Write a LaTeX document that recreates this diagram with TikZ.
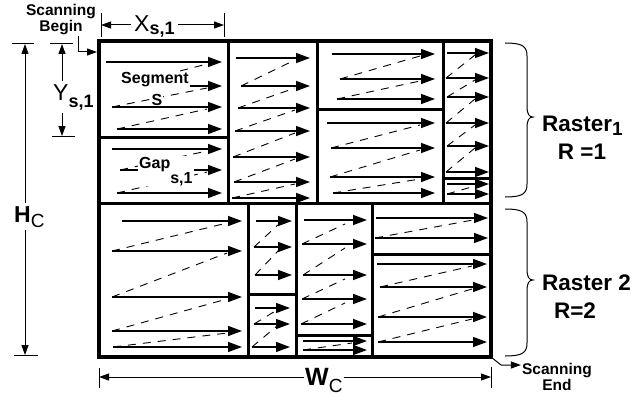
\documentclass[tikz,border=0pt]{standalone}
\usepackage{fontspec}
\setmainfont{Liberation Sans}
\usetikzlibrary{arrows.meta}

\begin{document}
\begin{tikzpicture}[x=1pt, y=-1pt,
    frame/.style={line width=3.5pt},
    divider/.style={line width=3pt},
    scan/.style={line width=1.4pt, -{Triangle[length=14pt,width=10pt]}},
    flyback/.style={line width=0.9pt, dash pattern=on 8pt off 7pt},
    dim/.style={line width=1pt},
    dimarrow/.style={dim, -{Triangle[length=10pt,width=7pt]}},
    brace/.style={line width=1pt},
    lbl/.style={font=\bfseries\fontsize{16}{21}\selectfont, fill=white, inner sep=1pt},
    note/.style={font=\bfseries\fontsize{15.5}{16}\selectfont, align=center, inner sep=1pt},
    big/.style={font=\fontsize{23}{26}\selectfont, inner sep=3pt},
    raster/.style={font=\bfseries\fontsize{22.5}{25}\selectfont, inner sep=1pt}]
  \useasboundingbox (0,0) rectangle (631,396);

  % --- Raster 1, column 1 (segment S and gap) ---
  \draw[flyback] (122,86) -- (207,64) (112,107) -- (207,88) (117,129) -- (207,109);
  \draw[scan] (106,62) -- (222,62);
  \draw[scan] (122,86) -- (222,86);
  \draw[scan] (112,107) -- (222,107);
  \draw[scan] (117,129) -- (222,129);
  \draw[flyback] (120,170) -- (207,151) (117,193) -- (207,172);
  \draw[scan] (112,149) -- (222,149);
  \draw[scan] (120,170) -- (222,170);
  \draw[scan] (117,193) -- (222,193);

  % --- Raster 1, column 2 ---
  \draw[flyback] (241,86) -- (295,60) (238,108) -- (295,88) (235,131) -- (295,110)
    (233,157) -- (295,133) (234,182) -- (295,159) (232,198) -- (295,184);
  \draw[scan] (236,58) -- (310,58);
  \draw[scan] (241,86) -- (310,86);
  \draw[scan] (238,108) -- (310,108);
  \draw[scan] (235,131) -- (310,131);
  \draw[scan] (233,157) -- (310,157);
  \draw[scan] (234,182) -- (310,182);
  \draw[scan] (232,198) -- (310,198);

  % --- Raster 1, column 3 ---
  \draw[flyback] (340,79) -- (420,56) (337,99) -- (420,81);
  \draw[scan] (332,54) -- (435,54);
  \draw[scan] (340,79) -- (435,79);
  \draw[scan] (337,99) -- (435,99);
  \draw[flyback] (331,148) -- (420,125) (330,177) -- (420,150) (333,193) -- (420,179);
  \draw[scan] (327,123) -- (435,123);
  \draw[scan] (331,148) -- (435,148);
  \draw[scan] (330,177) -- (435,177);
  \draw[scan] (333,193) -- (435,193);

  % --- Raster 1, column 4 ---
  \draw[flyback] (446,78) -- (475,55) (447,97) -- (475,80) (446,123) -- (475,99)
    (447,146) -- (475,125) (446,172) -- (475,148) (447,194) -- (475,186);
  \draw[scan] (447,53) -- (489,53);
  \draw[scan] (446,78) -- (489,78);
  \draw[scan] (447,97) -- (489,97);
  \draw[scan] (446,123) -- (489,123);
  \draw[scan] (447,146) -- (489,146);
  \draw[scan] (446,172) -- (489,172);
  \draw[scan] (447,184) -- (489,184);
  \draw[scan] (447,194) -- (489,194);

  % --- Raster 2, column 1 ---
  \draw[flyback] (112,251) -- (227,223) (112,297) -- (227,253) (112,331) -- (227,299)
    (113,347) -- (227,333);
  \draw[scan] (122,221) -- (242,221);
  \draw[scan] (112,251) -- (242,251);
  \draw[scan] (112,297) -- (242,297);
  \draw[scan] (112,331) -- (242,331);
  \draw[scan] (113,347) -- (242,347);

  % --- Raster 2, column 2 ---
  \draw[flyback] (254,247) -- (279,224) (255,275) -- (279,250);
  \draw[scan] (256,221) -- (292,221);
  \draw[scan] (254,247) -- (292,247);
  \draw[scan] (255,275) -- (292,275);
  \draw[flyback] (254,324) -- (277,310) (252,347) -- (277,326);
  \draw[scan] (255,308) -- (290,308);
  \draw[scan] (254,324) -- (290,324);
  \draw[scan] (252,347) -- (290,347);

  % --- Raster 2, column 3 ---
  \draw[flyback] (302,244) -- (345,224) (303,275) -- (345,248) (302,299) -- (345,279)
    (301,324) -- (345,303);
  \draw[scan] (304,220) -- (367,220);
  \draw[scan] (302,244) -- (367,244);
  \draw[scan] (303,275) -- (367,275);
  \draw[scan] (302,299) -- (367,299);
  \draw[scan] (301,324) -- (367,324);
  \draw[flyback] (303,350) -- (352,343);
  \draw[scan] (303,341) -- (367,341);
  \draw[scan] (303,350) -- (367,350);

  % --- Raster 2, column 4 ---
  \draw[flyback] (375,238) -- (473,220);
  \draw[scan] (376,218) -- (488,218);
  \draw[scan] (375,238) -- (488,238);
  \draw[flyback] (380,287) -- (472,266) (378,317) -- (472,289) (378,342) -- (472,319);
  \draw[scan] (377,264) -- (487,264);
  \draw[scan] (380,287) -- (487,287);
  \draw[scan] (378,317) -- (487,317);
  \draw[scan] (378,342) -- (487,342);

  % Segment and gap labels
  \node[lbl] (seg) at (155,80) {Segment};
  \node[lbl, inner sep=0.3pt] (segs) at (157,100) {S};
  \node[lbl, anchor=base west] (gap) at (138,168)
    {Gap\raisebox{-15pt}{s,1}};

  % Segment borders
  \draw[divider] (99,203) -- (491,203);
  \draw[divider] (228,41) -- (228,203);
  \draw[divider] (317,41) -- (317,203);
  \draw[divider] (443,41) -- (443,203);
  \draw[divider] (99,137) -- (228,137);
  \draw[divider] (317,109) -- (443,109);
  \draw[divider] (443,178) -- (491,178);
  \draw[divider] (248,203) -- (248,357);
  \draw[divider] (296,203) -- (296,357);
  \draw[divider] (372,203) -- (372,357);
  \draw[divider] (248,294) -- (296,294);
  \draw[divider] (296,335) -- (372,335);
  \draw[divider] (372,254) -- (491,254);

  % Frame
  \draw[frame] (99,41) rectangle (491,357);
  \coordinate (boxtl) at (97,52);
  \coordinate (boxbr) at (491,357);

  % Scanning begin / end
  \node[note] (sbegin) at (61,20) {Scanning\\Begin};
  \draw[dimarrow] ([xshift=17pt]sbegin.south) |- (boxtl);
  \node[note] (send) at (557,377) {Scanning\\End};
  \draw[dimarrow] (boxbr) -- ++(10,8) coordinate (sebend) -- (sebend -| send.west);

  % X_s,1
  \draw[dim] (101,13) -- (101,37);
  \draw[dim] (224,13) -- (224,37);
  \coordinate (xl) at (101,25);
  \coordinate (xr) at (224,25);
  \node[big, anchor=base west] (xs) at (131,32)
    {X\raisebox{-3pt}{\bfseries\fontsize{18}{18}\selectfont s,1}};
  \draw[dimarrow] (xs.west |- xl) -- (xl);
  \draw[dimarrow] (xs.east |- xr) -- (xr);

  % Y_s,1
  \draw[dim] (50,44) -- (73,44);
  \draw[dim] (52,136) -- (75,136);
  \coordinate (yt) at (62,44);
  \coordinate (yb) at (62,136);
  \node[big, anchor=base west] (ys) at (50,100)
    {Y\raisebox{-7pt}{\bfseries\fontsize{18}{18}\selectfont s,1}};
  \draw[dimarrow] (ys.north -| yt) -- (yt);
  \draw[dimarrow] (ys.south -| yb) -- (yb);

  % H_C
  \draw[dim] (12,44) -- (34,44);
  \draw[dim] (14,355) -- (38,355);
  \coordinate (ht) at (25,44);
  \coordinate (hb) at (25,355);
  \node[big, anchor=base west] (hc) at (11,222)
    {\bfseries H\raisebox{-5pt}{\mdseries\fontsize{19}{19}\selectfont C}};
  \draw[dimarrow] (hc.north -| ht) -- (ht);
  \draw[dimarrow] (hc.south -| hb) -- (hb);

  % W_C
  \draw[dim] (99,368) -- (99,388);
  \draw[dim] (491,367) -- (491,388);
  \coordinate (wl) at (99,377);
  \coordinate (wr) at (491,377);
  \node[big, inner sep=1pt, anchor=base west] (wc) at (304,385)
    {\bfseries\fontsize{25}{26}\selectfont W\raisebox{-7pt}{\mdseries\fontsize{19}{19}\selectfont C}};
  \draw[dimarrow] (wc.west |- wl) -- (wl);
  \draw[dimarrow] (wc.east |- wr) -- (wr);

  % Raster braces
  \draw[brace] (505,43) .. controls (522,43) and (527,46) .. (527,56) -- (527,106)
    .. controls (527,114) and (529,117) .. (533,117)
    .. controls (529,117) and (527,120) .. (527,128) -- (527,184)
    .. controls (527,194) and (522,197) .. (505,197);
  \draw[brace] (505,209) .. controls (522,209) and (527,212) .. (527,222) -- (527,269)
    .. controls (527,277) and (529,280) .. (533,280)
    .. controls (529,280) and (527,283) .. (527,291) -- (527,343)
    .. controls (527,353) and (522,356) .. (505,356);
  \node[raster, anchor=base west] (rast1) at (541,131)
    {Raster\raisebox{-4pt}{\fontsize{19}{19}\selectfont 1}};
  \node[raster, anchor=base] (rnum1) at (582,159) {R =1};
  \node[raster, anchor=base west] (rast2) at (541,290) {Raster 2};
  \node[raster, anchor=base] (rnum2) at (575,318) {R=2};
\end{tikzpicture}
\end{document}
